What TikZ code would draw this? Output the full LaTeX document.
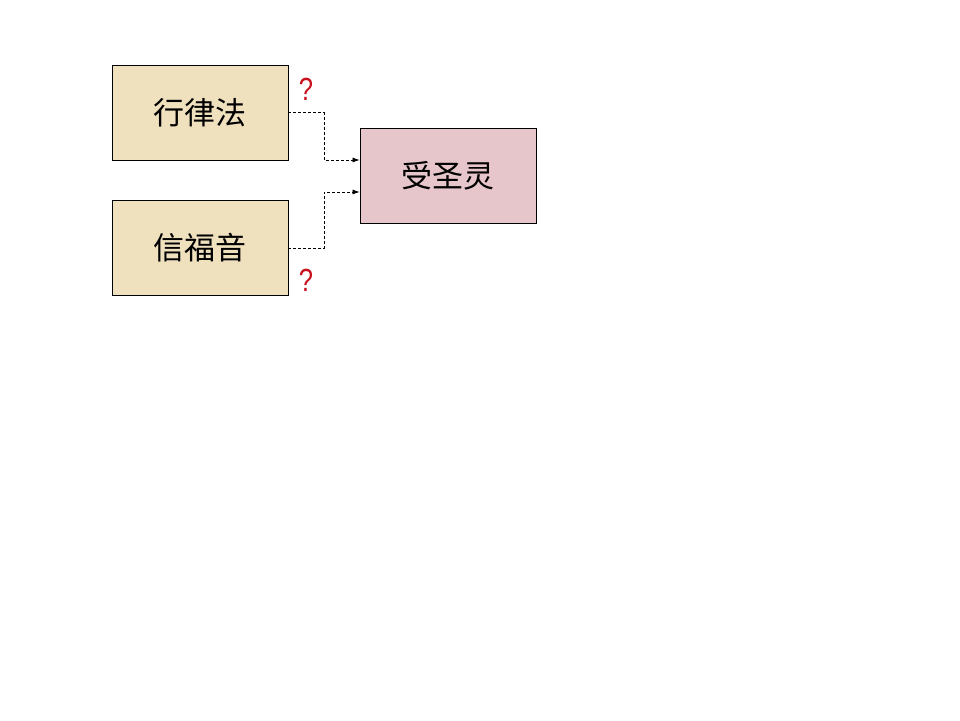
\documentclass[tikz,border=0pt]{standalone}
\usepackage{fontspec}
\newfontfamily\cjk{Noto Sans CJK SC}
\setmainfont{Liberation Sans}
\usetikzlibrary{arrows.meta}
\definecolor{tan}{HTML}{EFE0BE}
\definecolor{rosy}{HTML}{E7C6CB}
\definecolor{qred}{HTML}{C8101E}
\tikzset{
  box/.style={draw=black, line width=0.8pt, minimum width=176pt, minimum height=95pt, inner sep=0pt, font=\cjk\fontsize{31}{34}\selectfont},
  conn/.style={dashed, dash pattern=on 3pt off 2pt, line width=0.7pt, -{Latex[length=7pt,width=5pt]}},
  qm/.style={text=qred, font=\fontsize{32}{34}\selectfont}
}
\begin{document}
\begin{tikzpicture}[x=1pt,y=-1pt]
\useasboundingbox[fill=white] (0,0) rectangle (960,720);
\node[box, fill=tan] (law) at (200,112.5) {\raisebox{-2pt}{行律法}};
\node[box, fill=tan] (gospel) at (200,248) {\raisebox{-2pt}{信福音}};
\node[box, fill=rosy] (spirit) at (448,176) {\raisebox{-2pt}{受圣灵}};
\coordinate (t) at (360,160);
\coordinate (b) at (360,192);
\draw[conn] (law.east) -| (324,160) -- (spirit.west |- t);
\draw[conn] (gospel.east) -| (324,192) -- (spirit.west |- b);
\node[qm] (q1) at (306,89) {\scalebox{0.8}[1]{?}};
\node[qm] (q2) at (306,280) {\scalebox{0.8}[1]{?}};
\end{tikzpicture}
\end{document}
